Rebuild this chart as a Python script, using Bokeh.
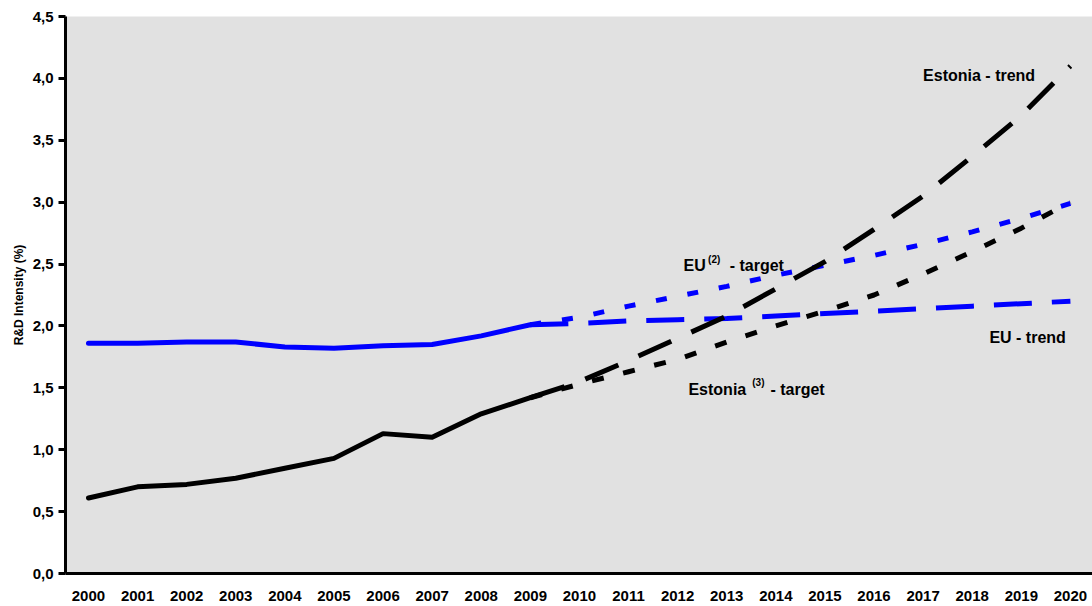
from bokeh.plotting import figure
from bokeh.models import FixedTicker, CustomJSTickFormatter, Range1d
from bokeh.core.properties import value
from bokeh.embed import file_html
from bokeh.resources import INLINE

# ---- data ----
years_hist = [2000, 2001, 2002, 2003, 2004, 2005, 2006, 2007, 2008, 2009]
eu_hist = [1.86, 1.86, 1.87, 1.87, 1.83, 1.82, 1.84, 1.85, 1.92, 2.01]
ee_hist = [0.61, 0.70, 0.72, 0.77, 0.85, 0.93, 1.13, 1.10, 1.29, 1.42]

years_proj = [2009, 2010, 2011, 2012, 2013, 2014, 2015, 2016, 2017, 2018, 2019, 2020]
ee_trend = [1.42, 1.55, 1.72, 1.90, 2.08, 2.30, 2.52, 2.78, 3.05, 3.37, 3.70, 4.10]
ee_target = [1.42, 1.53, 1.63, 1.73, 1.87, 2.00, 2.12, 2.25, 2.42, 2.60, 2.79, 3.00]
eu_trend = [2.01, 2.02, 2.04, 2.05, 2.06, 2.08, 2.10, 2.12, 2.14, 2.16, 2.18, 2.20]
eu_target = [2.01, 2.07, 2.16, 2.24, 2.32, 2.41, 2.49, 2.57, 2.66, 2.76, 2.87, 2.99]

x_ticks = list(range(2000, 2021))
y_ticks = [0.0, 0.5, 1.0, 1.5, 2.0, 2.5, 3.0, 3.5, 4.0, 4.5]

# label texts (main, superscript, tail) and anchor positions in data units
lab_main = ["Estonia - trend", "EU - trend", "EU", "Estonia"]
lab_main_x = [2017.0, 2018.35, 2012.12, 2012.22]
lab_main_y = [4.02, 1.91, 2.49, 1.49]
lab_sup = ["(2)", "(3)"]
lab_sup_x = [2012.62, 2013.52]
lab_sup_y = [2.54, 1.54]
lab_tail = ["- target", "- target"]
lab_tail_x = [2013.06, 2013.89]
lab_tail_y = [2.49, 1.49]

y_title = "R&D Intensity (%)"

FONT = "Liberation Sans"
BLUE = "#0000ff"

p = figure(width=1092, height=606, output_backend="svg", toolbar_location=None,
           x_range=Range1d(1999.532, 2020.45), y_range=Range1d(0, 4.5),
           min_border_left=65, min_border_right=0, min_border_top=16, min_border_bottom=33)
p.background_fill_color = "#e1e1e1"
p.border_fill_color = "white"
p.outline_line_color = None
p.xgrid.visible = False
p.ygrid.visible = False

# lines
p.line(years_hist, eu_hist, line_color=BLUE, line_width=5, line_join="round", line_cap="round")
p.line(years_hist, ee_hist, line_color="black", line_width=5, line_join="round", line_cap="round")
p.line(years_proj, eu_trend, line_color=BLUE, line_width=5, line_dash="38 20", line_cap="butt")
p.line(years_proj, eu_target, line_color=BLUE, line_width=5, line_dash="11 21", line_cap="butt")
p.line(years_proj, ee_trend, line_color="black", line_width=5, line_dash="36 22", line_cap="butt")
p.line(years_proj, ee_target, line_color="black", line_width=5, line_dash="12 20", line_cap="butt")

# labels
p.text(lab_main_x, lab_main_y, text=lab_main, text_font=value(FONT), text_font_style="bold",
       text_font_size="16px", text_color="black", text_align="left", text_baseline="alphabetic")
p.text(lab_sup_x, lab_sup_y, text=lab_sup, text_font=value(FONT), text_font_style="bold",
       text_font_size="10px", text_color="black", text_align="left", text_baseline="alphabetic")
p.text(lab_tail_x, lab_tail_y, text=lab_tail, text_font=value(FONT), text_font_style="bold",
       text_font_size="16px", text_color="black", text_align="left", text_baseline="alphabetic")

# x axis
xa = p.xaxis[0]
xa.ticker = FixedTicker(ticks=x_ticks)
xa.formatter = CustomJSTickFormatter(code="return String(tick)")
xa.axis_line_color = "black"
xa.axis_line_width = 3
xa.major_tick_line_color = None
xa.minor_tick_line_color = None
xa.major_label_text_font = FONT
xa.major_label_text_font_style = "bold"
xa.major_label_text_font_size = "15px"
xa.major_label_text_color = "black"
xa.major_label_standoff = 11

# y axis
ya = p.yaxis[0]
ya.ticker = FixedTicker(ticks=y_ticks)
ya.formatter = CustomJSTickFormatter(code="return tick.toFixed(1).replace('.', ',')")
ya.axis_line_color = "black"
ya.axis_line_width = 3
ya.major_tick_line_color = "black"
ya.major_tick_line_width = 3
ya.major_tick_out = 7
ya.major_tick_in = 0
ya.minor_tick_line_color = None
ya.major_label_text_font = FONT
ya.major_label_text_font_style = "bold"
ya.major_label_text_font_size = "15px"
ya.major_label_text_color = "black"
ya.major_label_standoff = 5
ya.axis_label = y_title
ya.axis_label_text_font = FONT
ya.axis_label_text_font_style = "bold"
ya.axis_label_text_font_size = "12px"
ya.axis_label_text_color = "black"
ya.axis_label_standoff = 4

open("out.html", "w").write(file_html(p, INLINE))
